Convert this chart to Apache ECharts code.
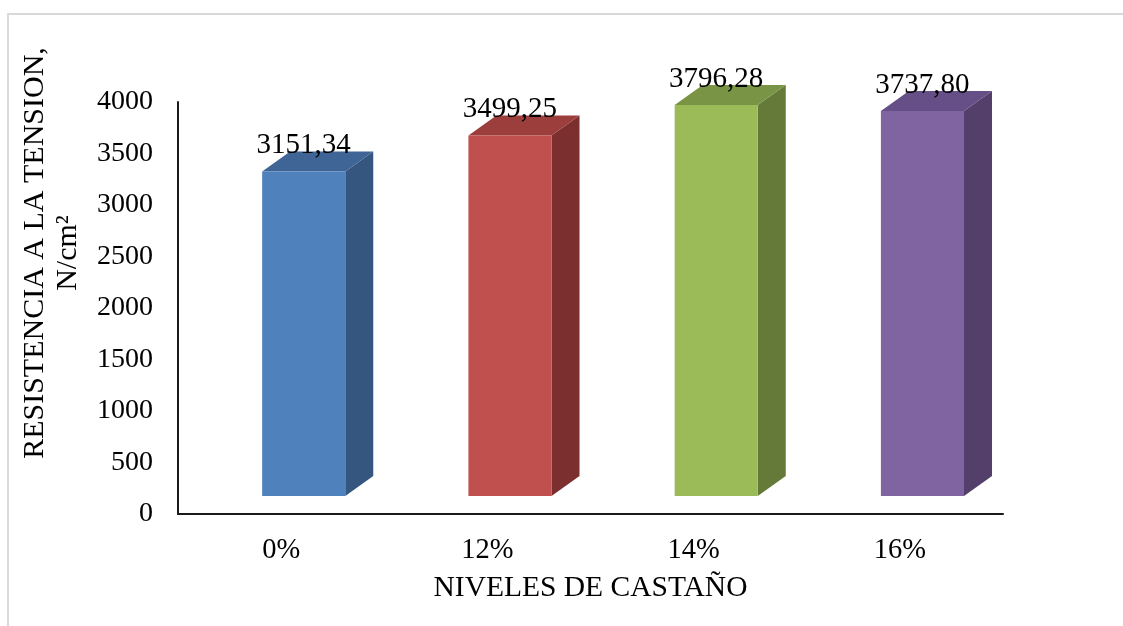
<!DOCTYPE html>
<html>
<head>
<meta charset="utf-8">
<script src="https://cdn.jsdelivr.net/npm/echarts@6/dist/echarts.min.js"></script>
<style>
  html, body { margin: 0; padding: 0; background: #ffffff; }
  #chart { width: 1123px; height: 626px; }
</style>
</head>
<body>
<div id="chart"></div>
<script>
// Tensile strength by chestnut level
const categories = ['0%', '12%', '14%', '16%'];
const values = [3151.34, 3499.25, 3796.28, 3737.80];
const valueLabels = ['3151,34', '3499,25', '3796,28', '3737,80'];
const yTicks = [0, 500, 1000, 1500, 2000, 2500, 3000, 3500, 4000];

// Face colours of each prism: front, side, top
const frontColors = ['#4f81bd', '#c0504d', '#9bbb59', '#8064a2'];
const sideColors  = ['#34567f', '#7b2f2e', '#657a39', '#533f6a'];
const topColors   = ['#3f6596', '#9b3e3c', '#7a9446', '#654f86'];

const FONT = '"Liberation Serif", "Times New Roman", serif';

const chart = echarts.init(document.getElementById('chart'), null, { renderer: 'canvas' });

// Pseudo-3D prism: front rectangle, right side and top parallelograms
function renderPrism(params, api) {
  const i = api.value(0);
  const v = api.value(1);
  const base = api.coord([i, 0]);
  const top = api.coord([i, v]);
  const band = api.size([1, 0])[0];
  const w = band * 0.403;
  const x0 = base[0] - band * 0.092;
  const lift = 18;      // floor of the prisms sits above the axis line
  const dx = 28, dy = 20; // depth
  const yb = base[1] - lift;
  const yt = top[1] - lift;
  return {
    type: 'group',
    children: [
      { type: 'polygon', shape: { points: [[x0 + w, yt], [x0 + w + dx, yt - dy], [x0 + w + dx, yb - dy], [x0 + w, yb]] },
        style: { fill: sideColors[i] } },
      { type: 'polygon', shape: { points: [[x0, yt], [x0 + dx, yt - dy], [x0 + w + dx, yt - dy], [x0 + w, yt]] },
        style: { fill: topColors[i] } },
      { type: 'rect', shape: { x: x0, y: yt, width: w, height: yb - yt },
        style: { fill: frontColors[i] } },
      { type: 'text', x: x0 + w / 2, y: yt - dy - 6,
        style: { text: valueLabels[i], fill: '#000', font: '29px ' + FONT, align: 'center', verticalAlign: 'middle' } }
    ]
  };
}

chart.setOption({
  animation: false,
  backgroundColor: '#ffffff',
  grid: { left: 178, right: 120, top: 102, bottom: 112 },
  xAxis: {
    type: 'category',
    data: categories,
    name: 'NIVELES DE CASTAÑO',
    nameLocation: 'middle',
    nameGap: 59,
    nameTextStyle: { fontFamily: FONT, fontSize: 29.5, color: '#000' },
    axisLine: { lineStyle: { color: '#1a1a1a', width: 2 } },
    axisTick: { show: false },
    axisLabel: { fontFamily: FONT, fontSize: 28.5, color: '#000', margin: 22 }
  },
  yAxis: {
    type: 'value',
    min: yTicks[0],
    max: yTicks[yTicks.length - 1],
    interval: 500,
    splitLine: { show: false },
    axisLine: { show: true, lineStyle: { color: '#1a1a1a', width: 2 } },
    axisTick: { show: false },
    axisLabel: { fontFamily: FONT, fontSize: 28, color: '#000', margin: 25, formatter: v => String(v) }
  },
  graphic: [
    { type: 'rect', shape: { x: 8, y: 14, width: 1130, height: 640 }, style: { fill: 'none', stroke: '#d9d9d9', lineWidth: 2 }, silent: true },
    { type: 'text', x: 52, y: 253, rotation: Math.PI / 2,
      style: { text: 'RESISTENCIA A LA TENSION,\nN/cm²', font: '30px ' + FONT, fill: '#000', align: 'center', verticalAlign: 'middle', lineHeight: 33 } }
  ],
  series: [{
    type: 'custom',
    renderItem: renderPrism,
    data: values.map((v, i) => [i, v]),
    clip: false
  }]
});
</script>
</body>
</html>
